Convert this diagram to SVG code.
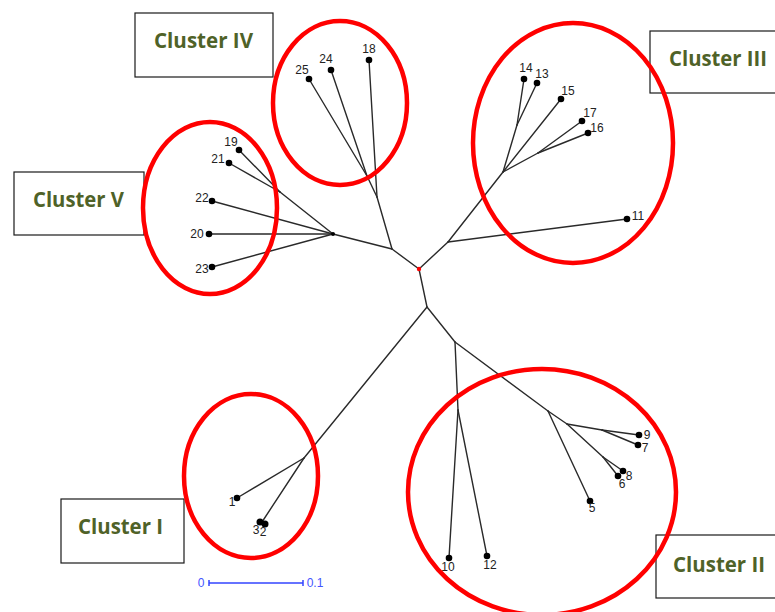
<svg xmlns="http://www.w3.org/2000/svg" width="775" height="612" viewBox="0 0 775 612">
  <style>
    .edge { stroke: #2a2a2a; stroke-width: 1.4; fill: none; stroke-linecap: round; }
    .tip { fill: #000; }
    .lbl { font-family: "Liberation Sans", Arial, sans-serif; font-size: 12px; fill: #222; text-anchor: middle; }
    .box { fill: #fff; stroke: #1a1a1a; stroke-width: 1.2; }
    .ctitle { font-family: "Open Sans", "Liberation Sans", sans-serif; font-weight: bold; font-size: 22px; fill: #4f6228; }
    .ring { fill: none; stroke: #ff0000; stroke-width: 4.5; }
    .scale { stroke: #3344ff; stroke-width: 1.5; fill: none; }
    .scaletxt { font-family: "Liberation Sans", Arial, sans-serif; font-size: 12px; fill: #4455ff; text-anchor: middle; }
  </style>

  <rect width="775" height="612" fill="#fff"/>

  <!-- cluster caption boxes -->
  <g id="label-cluster-iv">
    <rect class="box" x="135" y="13" width="138" height="64"/>
    <text class="ctitle" x="154" y="48" textLength="99" lengthAdjust="spacingAndGlyphs">Cluster IV</text>
  </g>
  <g id="label-cluster-iii">
    <rect class="box" x="650" y="31" width="130" height="62"/>
    <text class="ctitle" x="669" y="66" textLength="98" lengthAdjust="spacingAndGlyphs">Cluster III</text>
  </g>
  <g id="label-cluster-v">
    <rect class="box" x="14" y="172" width="130" height="63"/>
    <text class="ctitle" x="33" y="207" textLength="91" lengthAdjust="spacingAndGlyphs">Cluster V</text>
  </g>
  <g id="label-cluster-i">
    <rect class="box" x="61" y="499" width="123" height="64"/>
    <text class="ctitle" x="78" y="534" textLength="85" lengthAdjust="spacingAndGlyphs">Cluster I</text>
  </g>
  <g id="label-cluster-ii">
    <rect class="box" x="656" y="535" width="124" height="63"/>
    <text class="ctitle" x="673" y="572" textLength="92" lengthAdjust="spacingAndGlyphs">Cluster II</text>
  </g>

  <!-- branches of the unrooted tree -->
  <g id="connectors">
    <!-- root to upper-left group -->
    <line class="edge" x1="419" y1="269" x2="392" y2="249"/>
    <line class="edge" x1="392" y1="249" x2="377" y2="197"/>
    <line class="edge" x1="377" y1="197" x2="369" y2="60"/>
    <line class="edge" x1="377" y1="197" x2="367" y2="176"/>
    <line class="edge" x1="367" y1="176" x2="309" y2="79"/>
    <line class="edge" x1="367" y1="176" x2="331" y2="70"/>
    <line class="edge" x1="392" y1="249" x2="333" y2="234"/>
    <line class="edge" x1="333" y1="234" x2="280" y2="192"/>
    <line class="edge" x1="280" y1="192" x2="239" y2="150"/>
    <line class="edge" x1="280" y1="192" x2="229" y2="163"/>
    <line class="edge" x1="333" y1="234" x2="212" y2="201"/>
    <line class="edge" x1="333" y1="234" x2="209" y2="234"/>
    <line class="edge" x1="333" y1="234" x2="212" y2="267"/>
    <!-- root to upper-right group -->
    <line class="edge" x1="419" y1="269" x2="448" y2="242"/>
    <line class="edge" x1="448" y1="242" x2="627" y2="219"/>
    <line class="edge" x1="448" y1="242" x2="503" y2="172"/>
    <line class="edge" x1="503" y1="172" x2="517" y2="125"/>
    <line class="edge" x1="517" y1="125" x2="524" y2="79"/>
    <line class="edge" x1="517" y1="125" x2="537" y2="83"/>
    <line class="edge" x1="503" y1="172" x2="561" y2="99"/>
    <line class="edge" x1="503" y1="172" x2="538" y2="153"/>
    <line class="edge" x1="538" y1="153" x2="582" y2="121"/>
    <line class="edge" x1="538" y1="153" x2="588" y2="133"/>
    <!-- root to lower groups -->
    <line class="edge" x1="419" y1="269" x2="427" y2="307"/>
    <line class="edge" x1="427" y1="307" x2="304" y2="458"/>
    <line class="edge" x1="304" y1="458" x2="237" y2="498"/>
    <line class="edge" x1="304" y1="458" x2="262" y2="522"/>
    <line class="edge" x1="427" y1="307" x2="455" y2="342"/>
    <line class="edge" x1="455" y1="342" x2="458" y2="410"/>
    <line class="edge" x1="458" y1="410" x2="449" y2="558"/>
    <line class="edge" x1="458" y1="410" x2="487" y2="556"/>
    <line class="edge" x1="455" y1="342" x2="548" y2="411"/>
    <line class="edge" x1="548" y1="411" x2="590" y2="501"/>
    <line class="edge" x1="548" y1="411" x2="567" y2="424"/>
    <line class="edge" x1="567" y1="424" x2="602" y2="430"/>
    <line class="edge" x1="602" y1="430" x2="639" y2="435"/>
    <line class="edge" x1="602" y1="430" x2="638" y2="445"/>
    <line class="edge" x1="567" y1="424" x2="603" y2="457"/>
    <line class="edge" x1="603" y1="457" x2="623" y2="471"/>
    <line class="edge" x1="603" y1="457" x2="618" y2="476"/>
  </g>

  <!-- internal markers -->
  <g id="root"><circle cx="419" cy="269" r="2.2" fill="#ff0000"/></g>
  <g id="node-v"><circle cx="333" cy="234" r="2" fill="#000"/></g>

  <!-- leaves -->
  <g id="leaf-1"><circle class="tip" cx="237" cy="498" r="3.3"/><text class="lbl" x="232" y="506">1</text></g>
  <g id="leaf-3"><circle class="tip" cx="260" cy="522" r="3.5"/><text class="lbl" x="256" y="534">3</text></g>
  <g id="leaf-2"><circle class="tip" cx="265" cy="524" r="3.5"/><text class="lbl" x="263" y="536">2</text></g>
  <g id="leaf-5"><circle class="tip" cx="590" cy="501" r="3.3"/><text class="lbl" x="592" y="512">5</text></g>
  <g id="leaf-6"><circle class="tip" cx="618" cy="476" r="3.3"/><text class="lbl" x="622" y="488">6</text></g>
  <g id="leaf-7"><circle class="tip" cx="638" cy="445" r="3.3"/><text class="lbl" x="645" y="452">7</text></g>
  <g id="leaf-8"><circle class="tip" cx="623" cy="471" r="3.3"/><text class="lbl" x="629" y="480">8</text></g>
  <g id="leaf-9"><circle class="tip" cx="639" cy="435" r="3.3"/><text class="lbl" x="647" y="439">9</text></g>
  <g id="leaf-10"><circle class="tip" cx="449" cy="558" r="3.3"/><text class="lbl" x="448" y="571">10</text></g>
  <g id="leaf-11"><circle class="tip" cx="627" cy="219" r="3.3"/><text class="lbl" x="638" y="220">11</text></g>
  <g id="leaf-12"><circle class="tip" cx="487" cy="556" r="3.3"/><text class="lbl" x="490" y="569">12</text></g>
  <g id="leaf-13"><circle class="tip" cx="537" cy="83" r="3.3"/><text class="lbl" x="542" y="78">13</text></g>
  <g id="leaf-14"><circle class="tip" cx="524" cy="79" r="3.3"/><text class="lbl" x="526" y="72">14</text></g>
  <g id="leaf-15"><circle class="tip" cx="561" cy="99" r="3.3"/><text class="lbl" x="568" y="95">15</text></g>
  <g id="leaf-16"><circle class="tip" cx="588" cy="133" r="3.3"/><text class="lbl" x="597" y="132">16</text></g>
  <g id="leaf-17"><circle class="tip" cx="582" cy="121" r="3.3"/><text class="lbl" x="590" y="117">17</text></g>
  <g id="leaf-18"><circle class="tip" cx="369" cy="60" r="3.3"/><text class="lbl" x="369" y="53">18</text></g>
  <g id="leaf-19"><circle class="tip" cx="239" cy="150" r="3.3"/><text class="lbl" x="231" y="146">19</text></g>
  <g id="leaf-20"><circle class="tip" cx="209" cy="234" r="3.3"/><text class="lbl" x="197" y="238">20</text></g>
  <g id="leaf-21"><circle class="tip" cx="229" cy="163" r="3.3"/><text class="lbl" x="218" y="163">21</text></g>
  <g id="leaf-22"><circle class="tip" cx="212" cy="201" r="3.3"/><text class="lbl" x="202" y="202">22</text></g>
  <g id="leaf-23"><circle class="tip" cx="212" cy="267" r="3.3"/><text class="lbl" x="202" y="273">23</text></g>
  <g id="leaf-24"><circle class="tip" cx="331" cy="70" r="3.3"/><text class="lbl" x="326" y="63">24</text></g>
  <g id="leaf-25"><circle class="tip" cx="309" cy="79" r="3.3"/><text class="lbl" x="302" y="74">25</text></g>

  <!-- cluster outlines -->
  <g id="rings">
    <ellipse class="ring" cx="340" cy="103" rx="67" ry="82"/>
    <ellipse class="ring" cx="573" cy="143" rx="100" ry="120"/>
    <ellipse class="ring" cx="210" cy="208" rx="67" ry="86"/>
    <ellipse class="ring" cx="251" cy="476" rx="67" ry="82"/>
    <ellipse class="ring" cx="542" cy="492" rx="134" ry="123"/>
  </g>

  <!-- distance scale -->
  <g id="scale-bar">
    <line class="scale" x1="209" y1="583" x2="303" y2="583"/>
    <line class="scale" x1="209" y1="580" x2="209" y2="586"/>
    <line class="scale" x1="303" y1="580" x2="303" y2="586"/>
    <text class="scaletxt" x="201" y="587">0</text>
    <text class="scaletxt" x="315" y="587">0.1</text>
  </g>
</svg>
